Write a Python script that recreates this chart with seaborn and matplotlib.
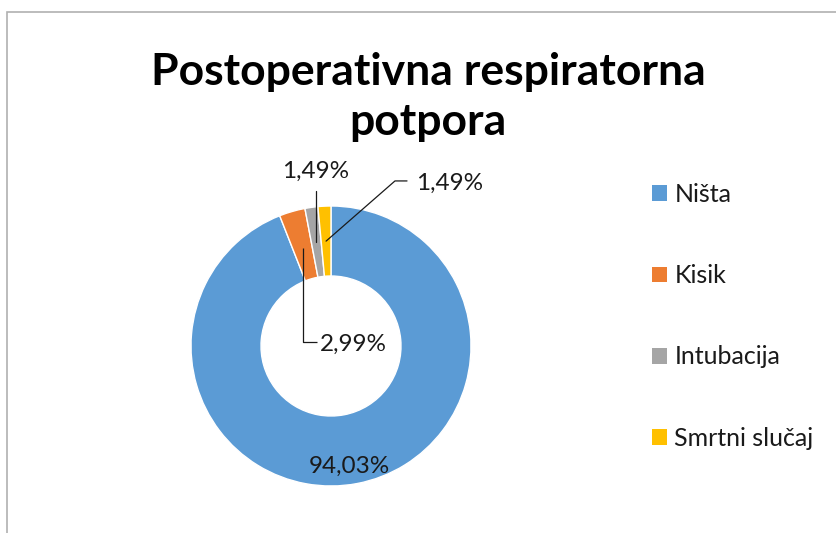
import numpy as np
import matplotlib
matplotlib.use("Agg")
import matplotlib.pyplot as plt
import matplotlib.patches as mpatches
import seaborn as sns

categories = ["Ništa", "Kisik", "Intubacija", "Smrtni slučaj"]
values = [94.03, 2.99, 1.49, 1.49]
value_labels = ["94,03%", "2,99%", "1,49%", "1,49%"]
colors = ["#5B9BD5", "#ED7D31", "#A5A5A5", "#FFC000"]
title = "Postoperativna respiratorna\npotpora"

sns.set_theme(style="white")
plt.rcParams["font.family"] = ["Lato", "DejaVu Sans"]

W, H = 837, 533
fig = plt.figure(figsize=(W / 100, H / 100), dpi=100)

# chart border (extends past right/bottom edges)
fig.patches.append(mpatches.Rectangle((7 / W, -0.1), 1.2, 1 - 12 / H + 0.1,
                                      transform=fig.transFigure, fill=False,
                                      edgecolor="#B0B0B0", lw=1.2))

cx, cy, R = 331, 346, 140
half = 1.5 * R
ax = fig.add_axes([(cx - half) / W, (H - cy - half) / H, 2 * half / W, 2 * half / H])
ax.axis("off")

wedges, _ = ax.pie(values, colors=colors, startangle=90, counterclock=False,
                   radius=1.0, wedgeprops=dict(width=0.5, edgecolor="white", linewidth=1))
ax.set_xlim(-1.5, 1.5)
ax.set_ylim(-1.5, 1.5)

fs = 17.5
txt = "#1a1a1a"
# midpoint angles of each wedge
mids = [np.deg2rad((w.theta1 + w.theta2) / 2) for w in wedges]

def ring_pt(i, r=0.75):
    return r * np.cos(mids[i]), r * np.sin(mids[i])

# Ništa label inside ring
ax.text(0.13, -0.857, value_labels[0], ha="center", va="center", fontsize=fs, color=txt)

# Kisik: leader down then right into hole
x0, y0 = ring_pt(1, 0.73)
ax.plot([x0, x0, x0 + 0.1], [y0, 0.03, 0.03], color=txt, lw=0.9, solid_capstyle="butt")
ax.text(x0 + 0.125, 0.01, value_labels[1], ha="left", va="center", fontsize=fs, color=txt)

# Intubacija: vertical leader up
x0, y0 = ring_pt(2)
ax.plot([x0, x0], [y0, 1.107], color=txt, lw=0.9)
ax.text(x0 - 0.005, 1.245, value_labels[2], ha="center", va="center", fontsize=fs, color=txt)

# Smrtni slučaj: diagonal then horizontal
x0, y0 = ring_pt(3)
ax.plot([x0, 0.457, 0.543], [y0, 1.179, 1.179], color=txt, lw=0.9)
ax.text(0.61, 1.165, value_labels[3], ha="left", va="center", fontsize=fs, color=txt)

fig.text(428 / W, 1 - 97 / H, title, ha="center", va="center", fontsize=32,
         fontweight="bold", color="black", linespacing=1.3)

handles = [mpatches.Patch(facecolor=c, edgecolor="none") for c in colors]
fig.legend(handles, categories, loc="upper left", bbox_to_anchor=(652 / W, 1 - 183 / H),
           frameon=False, fontsize=18, handlelength=0.6, handleheight=0.6,
           handletextpad=0.3, labelspacing=2.33, borderaxespad=0, borderpad=0,
           labelcolor=txt)

fig.savefig("out.png", dpi=100)
